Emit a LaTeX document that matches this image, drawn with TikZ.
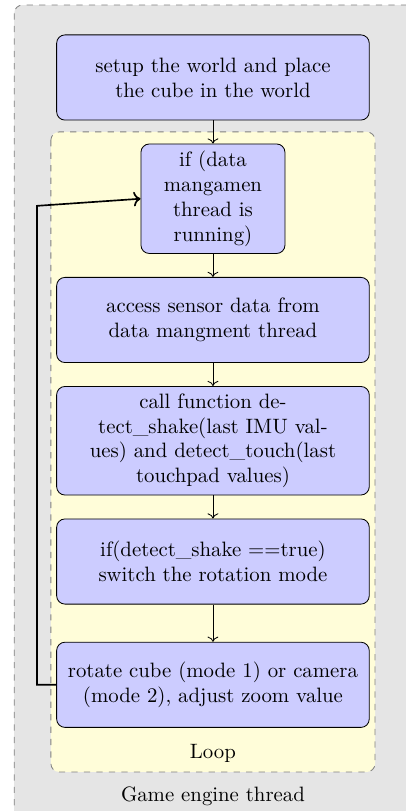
\documentclass[tikz,border=0pt]{standalone}
\usepackage{xcolor}
\usepackage{tikz}
\usetikzlibrary{arrows.meta,positioning,calc}

\begin{document}
\begin{tikzpicture}[
    node distance=0.39cm,
    stepbox/.style={draw, rounded corners=4pt, fill=blue!20, minimum width=5.27cm, minimum height=1.44cm, text width=5.05cm, align=center},
    thread/.style={draw=gray, dashed, rounded corners=4pt, fill=gray!20},
    loopbox/.style={draw=gray, dashed, rounded corners=4pt, fill=yellow!15},
    flow/.style={->},
    back/.style={->, thick},
    lab/.style={align=center}
]
\useasboundingbox (0,0) rectangle (6.86,-13.71);
% containers
\draw[thread] (0.24,-0.085) rectangle (7.0,-14.1);
\draw[loopbox] (0.86,-2.23) rectangle (6.34,-13.05);
\node[lab] (looplab) at (3.6,-12.73) {Loop};
\node[lab] (threadlab) at (3.6,-13.47) {Game engine thread};

\node[stepbox] (setup) at (3.6,-1.31) {setup the world and place\\the cube in the world};
\node[stepbox, below=of setup, minimum width=2.38cm, text width=2.2cm] (check) {if (data\\mangamen\\thread is\\running)};
\node[stepbox, below=of check] (access) {access sensor data from\\data mangment thread};
\node[stepbox, below=of access] (detect) {call function de-\\tect\_shake(last IMU val-\\ues) and detect\_touch(last\\touchpad values)};
\node[stepbox, below=of detect] (shake) {if(detect\_shake ==true)\\switch the rotation mode};
\node[stepbox, below=0.63cm of shake] (rotate) {rotate cube (mode 1) or camera\\(mode 2), adjust zoom value};

\draw[flow] (setup) -- (check);
\draw[flow] (check) -- (access);
\draw[flow] (access) -- (detect);
\draw[flow] (detect) -- (shake);
\draw[flow] (shake) -- (rotate);
\coordinate (turn) at (0.625,-3.48);
\draw[back] (rotate.west) -| (turn) -- (check.west);
\end{tikzpicture}
\end{document}
